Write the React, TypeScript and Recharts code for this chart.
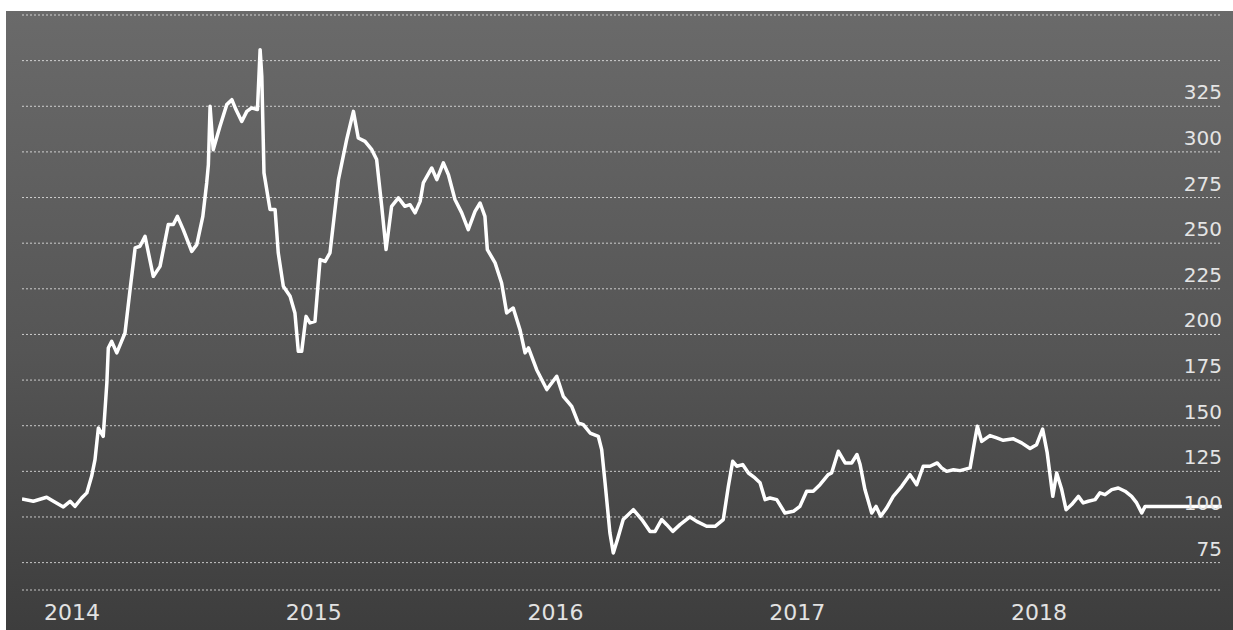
import { LineChart, Line, XAxis, YAxis, CartesianGrid } from 'recharts'

// decimal years
const times = [
  2013.793, 2013.84, 2013.895, 2013.923, 2013.964, 2013.992, 2014.012, 2014.04, 2014.061, 2014.081,
  2014.095, 2014.109, 2014.129, 2014.144, 2014.15, 2014.164, 2014.185, 2014.219, 2014.24, 2014.261,
  2014.281, 2014.302, 2014.336, 2014.364, 2014.398, 2014.419, 2014.436, 2014.46, 2014.495, 2014.516,
  2014.541, 2014.557, 2014.564, 2014.571, 2014.584, 2014.612, 2014.64, 2014.661, 2014.678, 2014.702,
  2014.723, 2014.743, 2014.767, 2014.778, 2014.785, 2014.794, 2014.819, 2014.84, 2014.853, 2014.874,
  2014.902, 2014.922, 2014.936, 2014.95, 2014.968, 2014.984, 2015.005, 2015.026, 2015.047, 2015.067,
  2015.102, 2015.136, 2015.164, 2015.184, 2015.212, 2015.24, 2015.26, 2015.281, 2015.299, 2015.322,
  2015.35, 2015.377, 2015.398, 2015.419, 2015.44, 2015.453, 2015.488, 2015.509, 2015.536, 2015.557,
  2015.584, 2015.612, 2015.639, 2015.667, 2015.688, 2015.708, 2015.718, 2015.75, 2015.777, 2015.798,
  2015.825, 2015.853, 2015.874, 2015.888, 2015.922, 2015.964, 2016.005, 2016.032, 2016.067, 2016.094,
  2016.115, 2016.143, 2016.177, 2016.191, 2016.205, 2016.225, 2016.239, 2016.256, 2016.28, 2016.322,
  2016.357, 2016.391, 2016.412, 2016.439, 2016.46, 2016.485, 2016.515, 2016.556, 2016.584, 2016.625,
  2016.66, 2016.694, 2016.715, 2016.733, 2016.75, 2016.774, 2016.798, 2016.825, 2016.846, 2016.867,
  2016.887, 2016.915, 2016.949, 2016.984, 2017.011, 2017.039, 2017.066, 2017.094, 2017.128, 2017.142,
  2017.17, 2017.198, 2017.225, 2017.247, 2017.26, 2017.28, 2017.308, 2017.326, 2017.345, 2017.37,
  2017.397, 2017.432, 2017.466, 2017.494, 2017.521, 2017.549, 2017.579, 2017.597, 2017.618, 2017.646,
  2017.673, 2017.715, 2017.735, 2017.745, 2017.763, 2017.797, 2017.825, 2017.852, 2017.894, 2017.928,
  2017.963, 2017.99, 2018.015, 2018.034, 2018.057, 2018.073, 2018.094, 2018.112, 2018.135, 2018.163,
  2018.183, 2018.204, 2018.232, 2018.252, 2018.273, 2018.301, 2018.328, 2018.356, 2018.383, 2018.404,
  2018.425, 2018.439, 2018.514, 2018.611, 2018.756,
]

const prices = [
  109.9, 108.6, 110.8, 108.6, 105.5, 108.6, 105.8, 110.4, 113.2, 122.3,
  131.4, 148.8, 144.2, 173.4, 192.6, 196.2, 189.9, 200.8, 224.5, 247.4,
  248.3, 253.7, 231.8, 237.3, 260.2, 260.2, 264.7, 257.4, 245.5, 249.2,
  264.7, 283.0, 293.0, 325.0, 301.2, 314.0, 325.9, 328.6, 323.2, 316.7,
  322.2, 324.1, 323.2, 356.0, 341.4, 288.5, 268.4, 268.4, 244.7, 226.4,
  220.9, 211.8, 190.8, 190.8, 209.9, 206.3, 207.2, 241.0, 240.0, 244.7,
  284.8, 306.7, 322.2, 307.6, 305.8, 301.2, 295.8, 270.2, 246.5, 270.2,
  274.8, 270.2, 271.1, 266.6, 272.9, 283.0, 291.2, 284.8, 294.0, 287.5,
  273.9, 266.6, 257.4, 267.4, 272.0, 264.7, 246.5, 239.2, 228.2, 211.8,
  214.5, 202.6, 189.9, 192.6, 180.7, 169.8, 177.1, 166.1, 160.6, 151.5,
  150.6, 146.0, 144.2, 136.9, 118.7, 91.3, 80.3, 87.6, 98.6, 104.0,
  98.6, 92.1, 92.1, 98.6, 95.8, 92.1, 95.8, 100.0, 97.6, 94.9,
  94.9, 98.6, 116.8, 130.5, 127.8, 128.7, 124.1, 121.4, 118.7, 109.5,
  110.4, 109.5, 102.2, 103.1, 105.8, 114.1, 114.1, 117.7, 123.2, 124.1,
  136.0, 129.6, 129.6, 134.2, 128.7, 115.0, 102.2, 105.8, 100.4, 105.0,
  111.3, 116.8, 123.2, 117.7, 127.8, 127.8, 129.6, 126.9, 125.0, 125.9,
  125.4, 126.9, 142.4, 149.7, 141.4, 144.6, 143.3, 142.0, 142.8, 140.6,
  137.5, 139.6, 148.1, 135.1, 111.3, 124.1, 115.0, 104.0, 106.8, 111.3,
  107.7, 108.6, 109.5, 113.2, 112.2, 115.0, 115.9, 114.1, 111.3, 107.7,
  102.2, 105.8, 105.8, 105.8, 105.8,
]

const yearTicks = [2014, 2015, 2016, 2017, 2018]
const priceTicks = [75, 100, 125, 150, 175, 200, 225, 250, 275, 300, 325, 350]
const shownPriceLabels = [75, 100, 125, 150, 175, 200, 225, 250, 275, 300, 325]

const data = times.map((t, i) => ({ t, price: prices[i] }))

const FONT = '"DejaVu Sans", sans-serif'
const PLOT_RIGHT = 1222

function YearTick(props: any) {
  const { x, y, payload } = props
  return (
    <text x={x} y={y + 30} textAnchor="middle" fill="#e2e2e2" fontSize={22} fontFamily={FONT}>
      {payload.value}
    </text>
  )
}

function PriceTick(props: any) {
  const { y, payload } = props
  if (!shownPriceLabels.includes(payload.value)) return <g />
  return (
    <text x={PLOT_RIGHT} y={y - 7} textAnchor="end" fill="#e4e4e4" fontSize={20} fontFamily={FONT}>
      {payload.value}
    </text>
  )
}

export default function App() {
  return (
    <div style={{ position: 'absolute', left: 0, top: 0, width: 1233, height: 630, background: '#fff' }}>
      <div
        style={{
          position: 'absolute',
          left: 6,
          top: 11,
          right: 0,
          bottom: 0,
          background: 'linear-gradient(to bottom, #6a6a6a 0%, #555555 55%, #3d3d3d 100%)',
        }}
      />
      <div style={{ position: 'absolute', left: 0, top: 0 }}>
        <LineChart width={1233} height={630} data={data} margin={{ top: 15, right: 11, left: 22, bottom: 0 }}>
          <CartesianGrid
            horizontal
            vertical={false}
            stroke="rgba(255,255,255,0.7)"
            strokeDasharray="2 2"
          />
          <XAxis
            dataKey="t"
            type="number"
            domain={[2013.793, 2018.757]}
            ticks={yearTicks}
            tick={<YearTick />}
            axisLine={false}
            tickLine={false}
            tickSize={0}
            tickMargin={0}
            height={40}
            allowDataOverflow
          />
          <YAxis
            orientation="right"
            mirror
            type="number"
            domain={[60, 375]}
            ticks={priceTicks}
            tick={<PriceTick />}
            axisLine={false}
            tickLine={false}
            tickSize={0}
            tickMargin={0}
            width={60}
            interval={0}
            allowDataOverflow
          />
          <Line
            type="linear"
            dataKey="price"
            stroke="#ffffff"
            strokeWidth={3.5}
            strokeLinejoin="round"
            dot={false}
            isAnimationActive={false}
          />
        </LineChart>
      </div>
    </div>
  )
}
